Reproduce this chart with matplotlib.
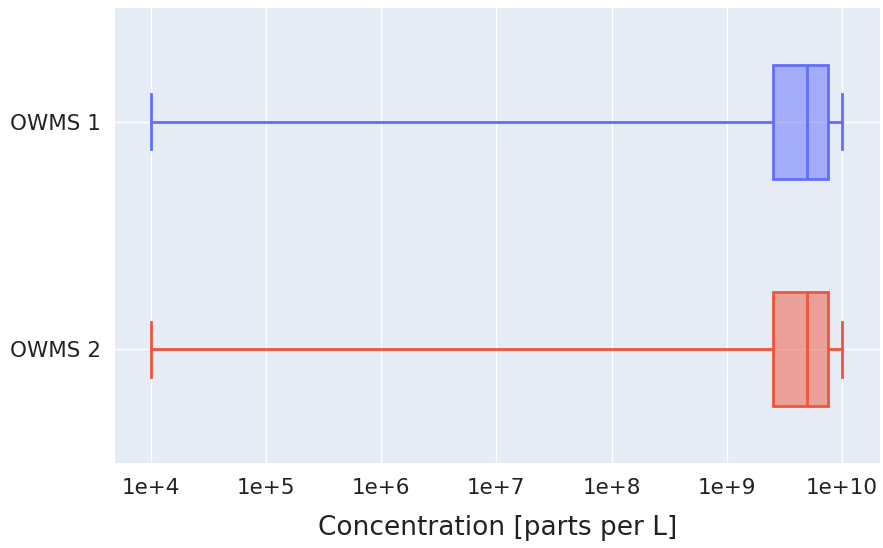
import matplotlib.pyplot as plt

# summary statistics per sample (parts per L)
labels = ['OWMS 1', 'OWMS 2']
mins = [1e4, 1e4]
q1s = [2.5e9, 2.5e9]
medians = [5e9, 5e9]
q3s = [7.5e9, 7.5e9]
maxs = [1e10, 1e10]
colors = ['#636EFA', '#EF553B']

tick_vals = [1e4, 1e5, 1e6, 1e7, 1e8, 1e9, 1e10]
tick_text = ['1e+4', '1e+5', '1e+6', '1e+7', '1e+8', '1e+9', '1e+10']

fig = plt.figure(figsize=(8.83, 5.48), dpi=100)
ax = fig.add_axes([115 / 883, 85 / 548, 765 / 883, 455 / 548])
ax.set_facecolor('#E5ECF6')

positions = [1, 0]
for i, lab in enumerate(labels):
    stats = [{'label': lab, 'whislo': mins[i], 'q1': q1s[i], 'med': medians[i],
              'q3': q3s[i], 'whishi': maxs[i]}]
    c = colors[i]
    ax.bxp(stats, positions=[positions[i]], vert=False, widths=0.5,
           showfliers=False, patch_artist=True,
           boxprops=dict(facecolor=c + '80', edgecolor=c, linewidth=2),
           medianprops=dict(color=c, linewidth=2),
           whiskerprops=dict(color=c, linewidth=2),
           capprops=dict(color=c, linewidth=2),
           capwidths=0.24, zorder=3)

ax.set_xscale('log')
ax.set_xlim(10 ** 3.69, 10 ** 10.33)
ax.set_ylim(-0.5, 1.5)
ax.set_xticks(tick_vals)
ax.set_xticklabels(tick_text)
ax.minorticks_off()
ax.set_yticks(positions)
ax.set_yticklabels(labels)
ax.grid(True, color='white', linewidth=1, zorder=0)
ax.set_axisbelow(True)
for s in ax.spines.values():
    s.set_visible(False)
ax.tick_params(length=0, labelsize=15.5, pad=10, labelcolor='#222222')
ax.tick_params(axis='x', pad=11)
ax.set_xlabel('Concentration [parts per L]', fontsize=19, labelpad=12, color='#222222')

fig.savefig('out.png', dpi=100)
